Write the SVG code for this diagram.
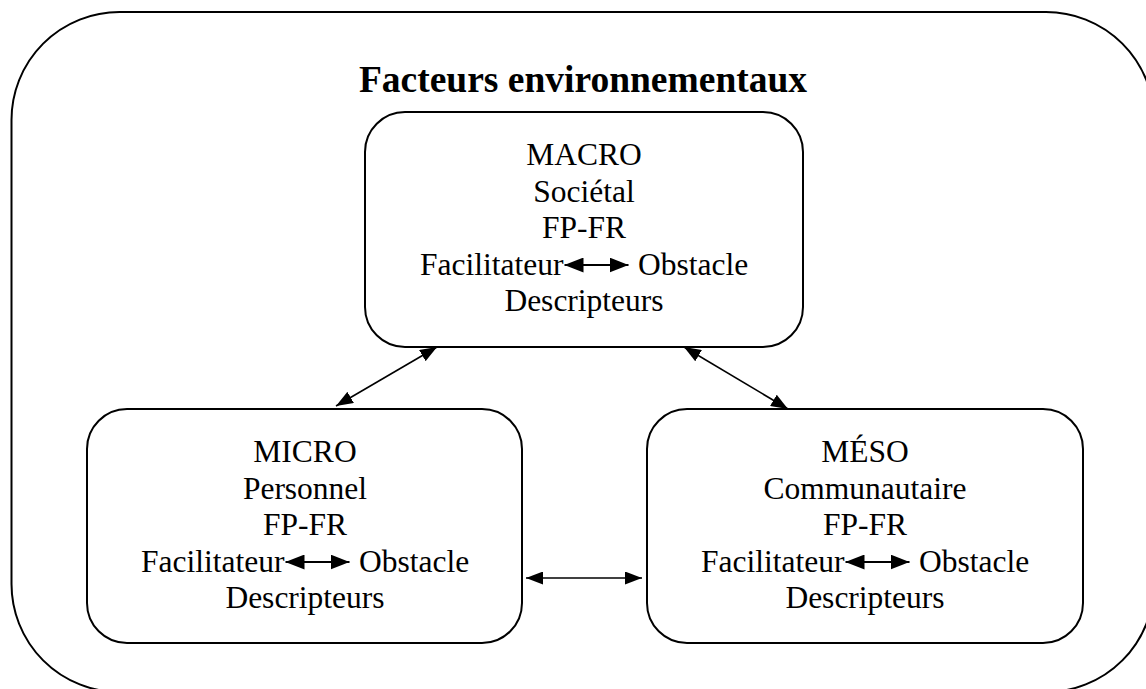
<svg xmlns="http://www.w3.org/2000/svg" width="1146" height="689" viewBox="0 0 1146 689">
<style>
.box{fill:#fff;stroke:#000;stroke-width:2}
.t{font-family:"Liberation Serif","Times New Roman",serif;font-size:31.5px;fill:#000}
.c{text-anchor:middle}
.e{text-anchor:end}
.title{font-family:"Liberation Serif","Times New Roman",serif;font-size:37.5px;font-weight:bold;text-anchor:middle;fill:#000}
.con{stroke:#000;stroke-width:1.6;fill:none}
.inl{stroke:#000;stroke-width:2;fill:none}
</style>
<defs>
<marker id="ah" markerUnits="userSpaceOnUse" markerWidth="17" markerHeight="13" refX="17" refY="6.5" orient="auto-start-reverse">
<path d="M0,0 L17,6.5 L0,13 z" fill="#000"/>
</marker>
<marker id="ahs" markerUnits="userSpaceOnUse" markerWidth="19" markerHeight="15" refX="19" refY="7.5" orient="auto-start-reverse">
<path d="M0,0 L19,7.5 L0,15 z" fill="#000"/>
</marker>
</defs>
<g id="outer">
<rect class="box" x="11.5" y="12" width="1142.5" height="680" rx="108" ry="108"/>
<text class="title" x="583" y="92">Facteurs environnementaux</text>
</g>
<g id="macro">
<rect class="box" x="365" y="112" width="438" height="235" rx="40" ry="40"/>
<text class="t c" x="584" y="165">MACRO</text>
<text class="t c" x="584" y="201.5">Sociétal</text>
<text class="t c" x="584" y="238">FP-FR</text>
<text class="t e" x="563.5" y="274.5">Facilitateur</text>
<line class="inl" x1="564.5" y1="265" x2="628.5" y2="265" marker-start="url(#ahs)" marker-end="url(#ahs)"/>
<text class="t" x="638" y="274.5">Obstacle</text>
<text class="t c" x="584" y="311">Descripteurs</text>
</g>
<g id="micro">
<rect class="box" x="87" y="409" width="435" height="234" rx="40" ry="40"/>
<text class="t c" x="305" y="462">MICRO</text>
<text class="t c" x="305" y="498.5">Personnel</text>
<text class="t c" x="305" y="535">FP-FR</text>
<text class="t e" x="284.5" y="571.5">Facilitateur</text>
<line class="inl" x1="285.5" y1="562" x2="349.5" y2="562" marker-start="url(#ahs)" marker-end="url(#ahs)"/>
<text class="t" x="359" y="571.5">Obstacle</text>
<text class="t c" x="305" y="608">Descripteurs</text>
</g>
<g id="meso">
<rect class="box" x="647" y="409" width="436" height="234" rx="40" ry="40"/>
<text class="t c" x="865" y="462">MÉSO</text>
<text class="t c" x="865" y="498.5">Communautaire</text>
<text class="t c" x="865" y="535">FP-FR</text>
<text class="t e" x="844.5" y="571.5">Facilitateur</text>
<line class="inl" x1="845.5" y1="562" x2="909.5" y2="562" marker-start="url(#ahs)" marker-end="url(#ahs)"/>
<text class="t" x="919" y="571.5">Obstacle</text>
<text class="t c" x="865" y="608">Descripteurs</text>
</g>
<g id="connectors">
<line class="con" x1="336" y1="406" x2="437" y2="347" marker-start="url(#ah)" marker-end="url(#ah)"/>
<line class="con" x1="684" y1="347" x2="788" y2="409" marker-start="url(#ah)" marker-end="url(#ah)"/>
<line class="con" x1="526" y1="578" x2="642" y2="578" marker-start="url(#ah)" marker-end="url(#ah)"/>
</g>
</svg>
